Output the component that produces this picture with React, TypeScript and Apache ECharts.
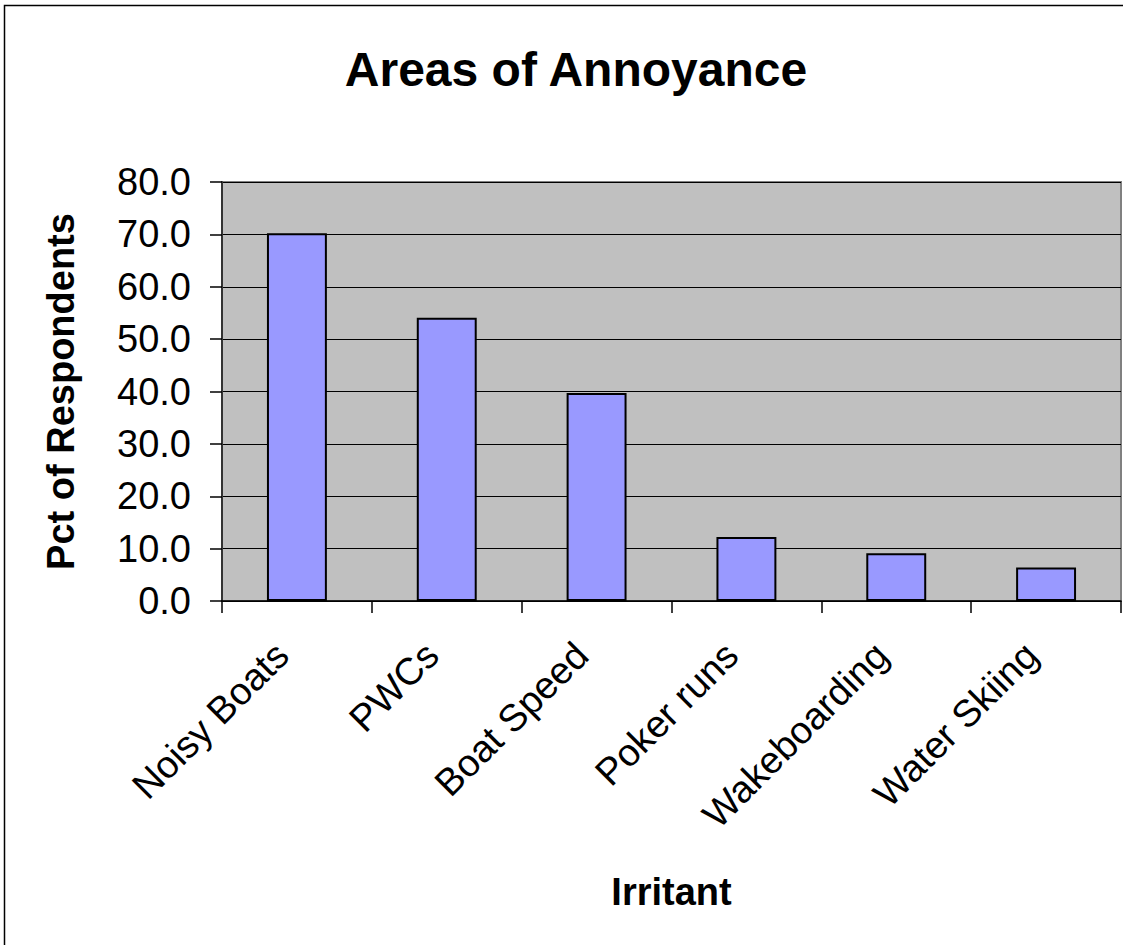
import React, { useEffect, useRef } from "react";
import * as echarts from "echarts";

const titleText = "Areas of Annoyance";
const categories = ["Noisy Boats", "PWCs", "Boat Speed", "Poker runs", "Wakeboarding", "Water Skiing"];
const values = [70.2, 54.1, 39.7, 12.2, 9.1, 6.4];
const yAxisName = "Pct of Respondents";
const xAxisName = "Irritant";

const FONT = "Liberation Sans, Arial, sans-serif";

export default function App() {
  const ref = useRef<HTMLDivElement>(null);
  useEffect(() => {
    if (!ref.current) return;
    const chart = echarts.init(ref.current, undefined, { renderer: "svg" });
    chart.setOption({
      animation: false,
      backgroundColor: "#ffffff",
      title: {
        text: titleText,
        left: 571,
        top: 40,
        textAlign: "center",
        textStyle: { fontFamily: FONT, fontSize: 48, fontWeight: "bold", color: "#000" },
      },
      graphic: [
        {
          type: "rect",
          shape: { x: 4.5, y: 5.5, width: 1140, height: 960 },
          style: { fill: "none", stroke: "#000", lineWidth: 1.5 },
          silent: true,
        },
      ],
      grid: {
        left: 222,
        top: 182,
        right: 2,
        bottom: 344,
        show: true,
        backgroundColor: "#C0C0C0",
        borderColor: "#808080",
        borderWidth: 2,
      },
      xAxis: {
        type: "category",
        data: categories,
        name: xAxisName,
        nameLocation: "middle",
        nameGap: 272,
        nameTextStyle: { fontFamily: FONT, fontSize: 38, fontWeight: "bold", color: "#000" },
        axisLine: { show: true, lineStyle: { color: "#000", width: 1.5 } },
        axisTick: { show: true, alignWithLabel: false, length: 12, lineStyle: { color: "#000", width: 1.5 } },
        axisLabel: {
          rotate: 45,
          interval: 0,
          margin: 33,
          padding: [0, 21, 0, 0],
          fontFamily: FONT,
          fontSize: 38,
          color: "#000",
        },
        splitLine: { show: false },
      },
      yAxis: {
        type: "value",
        min: 0,
        max: 80,
        interval: 10,
        name: yAxisName,
        nameLocation: "middle",
        nameGap: 142,
        nameTextStyle: { fontFamily: FONT, fontSize: 38, fontWeight: "bold", color: "#000" },
        axisLine: { show: true, lineStyle: { color: "#333", width: 2 } },
        axisTick: { show: true, inside: false, length: 12, lineStyle: { color: "#000", width: 1.5 } },
        axisLabel: {
          margin: 31,
          fontFamily: FONT,
          fontSize: 38,
          color: "#000",
          formatter: (v: number) => v.toFixed(1),
        },
        splitLine: { show: true, lineStyle: { color: "#000", width: 1.2 } },
      },
      series: [
        {
          type: "bar",
          data: values,
          barWidth: "40%",
          itemStyle: { color: "#9999FF", borderColor: "#000", borderWidth: 2 },
        },
      ],
    });
    return () => chart.dispose();
  }, []);
  return (
    <div
      ref={ref}
      style={{ position: "absolute", left: 0, top: 0, width: 1123, height: 945 }}
    />
  );
}
